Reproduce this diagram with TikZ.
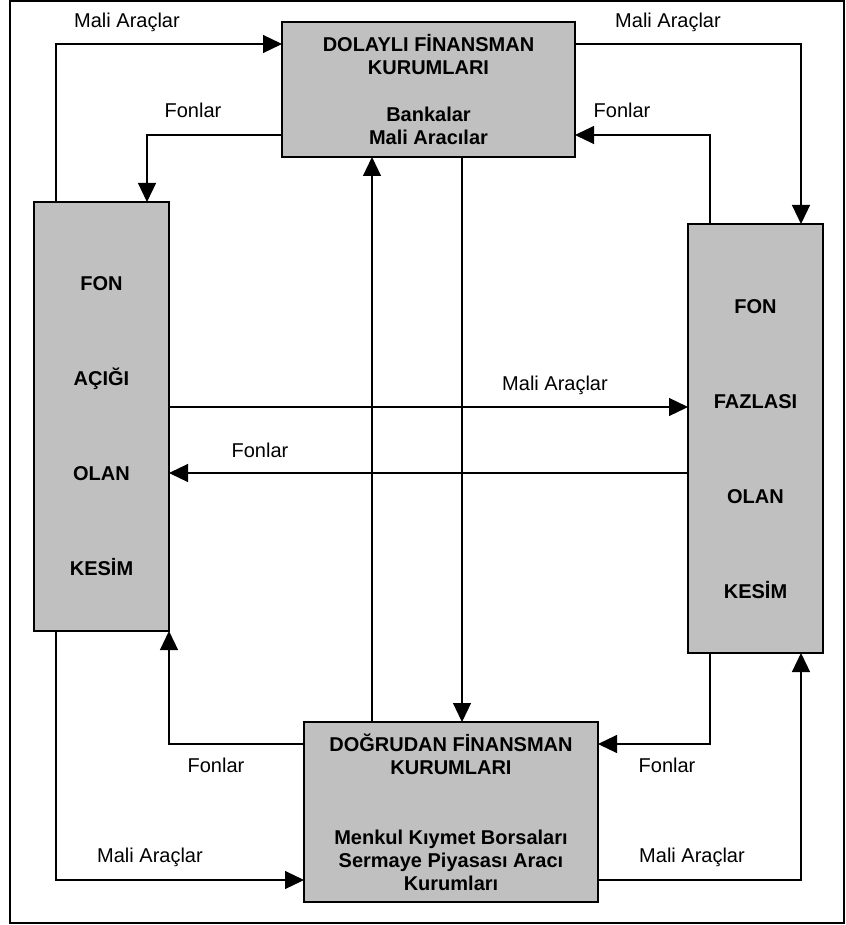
\documentclass[tikz,border=0pt]{standalone}
\usepackage{fontspec}
\setmainfont{Liberation Sans}
\usepackage{xcolor}
\usepackage{tikz}
\usetikzlibrary{arrows.meta}

\definecolor{boxgray}{RGB}{192,192,192}

\begin{document}
\begin{tikzpicture}[
    x=0.5pt, y=-0.5pt,
    box/.style={rectangle, draw=black, line width=0.75pt, fill=boxgray, align=center,
                inner sep=0pt, outer sep=0pt, font=\fontsize{10}{11.5}\selectfont\bfseries},
    sidebox/.style={box, minimum width=67.5pt, minimum height=214.5pt},
    lbl/.style={anchor=base, inner sep=0pt, font=\fontsize{10}{11.5}\selectfont},
    arrow/.style={-{Triangle[length=9.5pt,width=9pt]}, line width=0.6pt}
]
\useasboundingbox (0,0) rectangle (845,925);
\draw[line width=1.25pt] (10,1) rectangle (844,923);

% kurumlar ve kesimler
\node[box, minimum width=146.5pt, minimum height=67.5pt] (indirect) at (428.5,89.5)
    {DOLAYLI F\.INANSMAN\\KURUMLARI\\[12pt]Bankalar\\Mali Aracılar};
\node[box, minimum width=147pt, minimum height=90pt] (direct) at (451,812)
    {DOĞRUDAN F\.INANSMAN\\KURUMLARI\\[23.5pt]Menkul Kıymet Borsaları\\Sermaye Piyasası Aracı\\Kurumları};
\node[sidebox] (deficit) at (101.5,416.5)
    {\rule{0pt}{17pt}FON\\[36pt]AÇIĞI\\[36pt]OLAN\\[36pt]KES\.IM};
\node[sidebox] (surplus) at (755.5,438.5)
    {\rule{0pt}{18pt}FON\\[36pt]FAZLASI\\[36pt]OLAN\\[36pt]KES\.IM};

% hat konumlari
\coordinate (laneL)  at (56,0);
\coordinate (laneLi) at (147,0);
\coordinate (laneR)  at (801,0);
\coordinate (laneRi) at (710,0);
\coordinate (laneT)  at (0,44);
\coordinate (laneTi) at (0,135);
\coordinate (laneB)  at (0,880);
\coordinate (laneBi) at (0,744);
\coordinate (midA)   at (0,407);
\coordinate (midF)   at (0,473);
\coordinate (upX)    at (372,0);
\coordinate (downX)  at (462,0);

\draw[arrow] (deficit.north -| laneL) |- (indirect.west |- laneT);
\draw[arrow] (indirect.west |- laneTi) -| (deficit.north -| laneLi);
\draw[arrow] (indirect.east |- laneT) -| (surplus.north -| laneR);
\draw[arrow] (surplus.north -| laneRi) |- (indirect.east |- laneTi);
\draw[arrow] (deficit.east |- midA) -- (surplus.west |- midA);
\draw[arrow] (surplus.west |- midF) -- (deficit.east |- midF);
\draw[arrow] (direct.north -| upX) -- (indirect.south -| upX);
\draw[arrow] (indirect.south -| downX) -- (direct.north -| downX);
\draw[arrow] (direct.west |- laneBi) -| (deficit.south east);
\draw[arrow] (deficit.south -| laneL) |- (direct.west |- laneB);
\draw[arrow] (surplus.south -| laneRi) |- (direct.east |- laneBi);
\draw[arrow] (direct.east |- laneB) -| (surplus.south -| laneR);

% etiketler
\node[lbl] (maliTL) at (127,28)  {Mali Araçlar};
\node[lbl] (maliTR) at (668,28)  {Mali Araçlar};
\node[lbl] (fonTL)  at (193,118) {Fonlar};
\node[lbl] (fonTR)  at (622,118) {Fonlar};
\node[lbl] (maliM)  at (555,390) {Mali Araçlar};
\node[lbl] (fonM)   at (260,457) {Fonlar};
\node[lbl] (fonBL)  at (216,772) {Fonlar};
\node[lbl] (fonBR)  at (667,772) {Fonlar};
\node[lbl] (maliBL) at (150,862) {Mali Araçlar};
\node[lbl] (maliBR) at (692,862) {Mali Araçlar};
\end{tikzpicture}
\end{document}
